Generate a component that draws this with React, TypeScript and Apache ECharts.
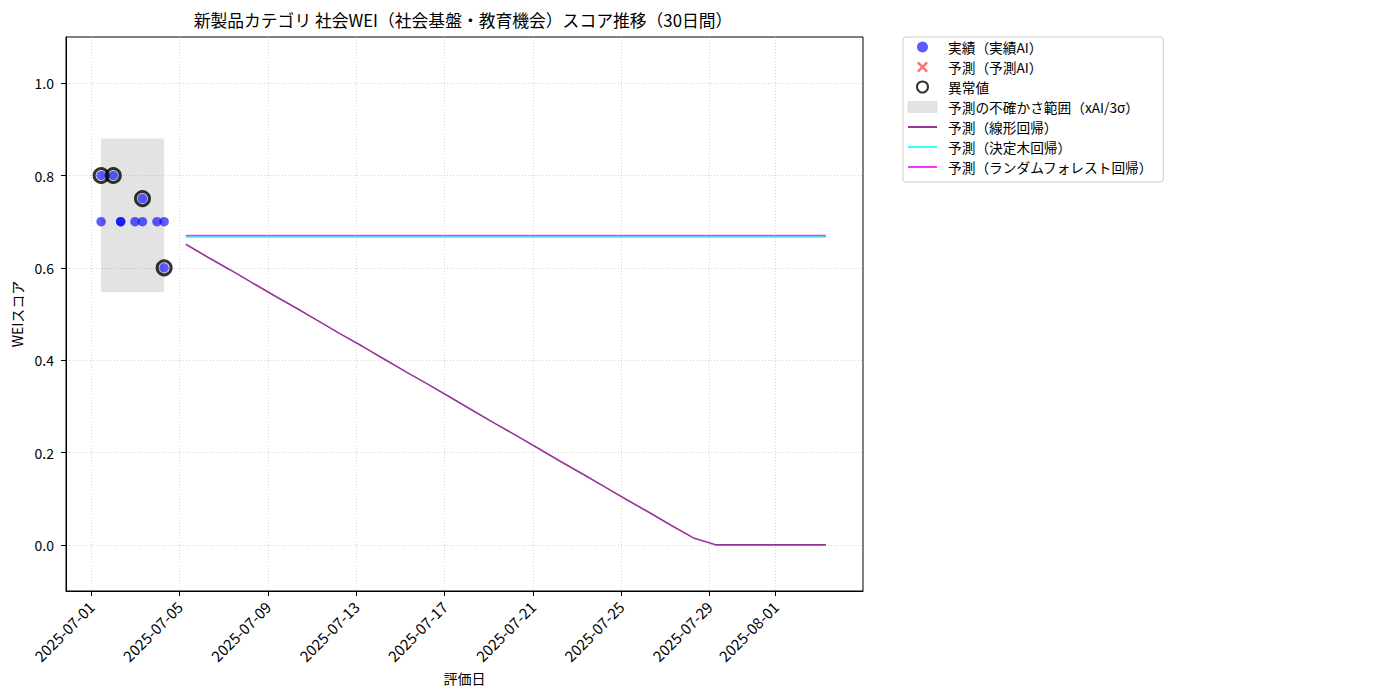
import React, { useEffect, useRef } from "react";
import * as echarts from "echarts";

// ---------- data ----------
const TITLE = "新製品カテゴリ 社会WEI（社会基盤・教育機会）スコア推移（30日間）";
const X_NAME = "評価日";
const Y_NAME = "WEIスコア";

const X_TICKS = [
  "2025-07-01", "2025-07-05", "2025-07-09", "2025-07-13", "2025-07-17",
  "2025-07-21", "2025-07-25", "2025-07-29", "2025-08-01",
];
const Y_TICKS = [0, 0.2, 0.4, 0.6, 0.8, 1.0];

const ACTUAL_DATES = [
  "2025-07-01 10:40", "2025-07-01 10:40", "2025-07-01 23:54",
  "2025-07-02 07:57", "2025-07-02 07:57", "2025-07-02 23:30",
  "2025-07-03 07:39", "2025-07-03 07:39", "2025-07-03 23:25",
  "2025-07-04 07:12", "2025-07-04 07:12",
];
const ACTUAL_VALUES = [0.8, 0.7, 0.8, 0.7, 0.7, 0.7, 0.7, 0.75, 0.7, 0.7, 0.6];

const OUTLIER_DATES = ["2025-07-01 10:40", "2025-07-01 23:54", "2025-07-03 07:39", "2025-07-04 07:12"];
const OUTLIER_VALUES = [0.8, 0.8, 0.75, 0.6];

const BAND_START = "2025-07-01 10:40";
const BAND_END = "2025-07-04 07:12";
const BAND_LOW = 0.547;
const BAND_HIGH = 0.88;

const FORECAST_TIME = "06:43";
const FORECAST_DAYS = [
  "2025-07-05", "2025-07-06", "2025-07-07", "2025-07-08", "2025-07-09",
  "2025-07-10", "2025-07-11", "2025-07-12", "2025-07-13", "2025-07-14",
  "2025-07-15", "2025-07-16", "2025-07-17", "2025-07-18", "2025-07-19",
  "2025-07-20", "2025-07-21", "2025-07-22", "2025-07-23", "2025-07-24",
  "2025-07-25", "2025-07-26", "2025-07-27", "2025-07-28", "2025-07-29",
  "2025-07-30", "2025-07-31", "2025-08-01", "2025-08-02", "2025-08-03",
];
const LINEAR_VALUES = [
  0.651, 0.623, 0.596, 0.568, 0.540, 0.513, 0.485, 0.457, 0.430, 0.402,
  0.374, 0.347, 0.319, 0.291, 0.263, 0.236, 0.208, 0.180, 0.153, 0.125,
  0.097, 0.070, 0.042, 0.015, 0, 0, 0, 0, 0, 0,
];
const TREE_VALUES = [
  0.667, 0.667, 0.667, 0.667, 0.667, 0.667, 0.667, 0.667, 0.667, 0.667,
  0.667, 0.667, 0.667, 0.667, 0.667, 0.667, 0.667, 0.667, 0.667, 0.667,
  0.667, 0.667, 0.667, 0.667, 0.667, 0.667, 0.667, 0.667, 0.667, 0.667,
];
const FOREST_VALUES = [
  0.670, 0.670, 0.670, 0.670, 0.670, 0.670, 0.670, 0.670, 0.670, 0.670,
  0.670, 0.670, 0.670, 0.670, 0.670, 0.670, 0.670, 0.670, 0.670, 0.670,
  0.670, 0.670, 0.670, 0.670, 0.670, 0.670, 0.670, 0.670, 0.670, 0.670,
];
const PRED_AI_DATES: string[] = [];
const PRED_AI_VALUES: number[] = [];

const NAMES = {
  actual: "実績（実績AI）",
  predAI: "予測（予測AI）",
  outlier: "異常値",
  band: "予測の不確かさ範囲（xAI/3σ）",
  linear: "予測（線形回帰）",
  tree: "予測（決定木回帰）",
  forest: "予測（ランダムフォレスト回帰）",
};

// ---------- helpers ----------
const DAY = 86400000;
function ts(s: string): number {
  const [d, t = "00:00"] = s.split(" ");
  const [Y, M, D] = d.split("-").map(Number);
  const [h, m] = t.split(":").map(Number);
  return Date.UTC(Y, M - 1, D, h, m);
}
const pad = (n: number) => String(n).padStart(2, "0");
function fmtDate(v: number): string {
  const d = new Date(v);
  return `${d.getUTCFullYear()}-${pad(d.getUTCMonth() + 1)}-${pad(d.getUTCDate())}`;
}
const zip = (xs: string[], ys: number[]) => xs.map((x, i) => [ts(x), ys[i]]);

const FONT = "'Noto Sans CJK JP', 'Noto Sans', sans-serif";
const X_CROSS =
  "path://M0,1.6L1.6,0L5,3.4L8.4,0L10,1.6L6.6,5L10,8.4L8.4,10L5,6.6L1.6,10L0,8.4L3.4,5Z";

export default function App() {
  const ref = useRef<HTMLDivElement>(null);
  useEffect(() => {
    if (!ref.current) return;
    const chart = echarts.init(ref.current, undefined, { renderer: "svg" });
    const forecastDates = FORECAST_DAYS.map((d) => `${d} ${FORECAST_TIME}`);
    const x0 = ts("2025-07-01");
    const hideSymbol = { itemStyle: { opacity: 0 } };
    const option: any = {
      animation: false,
      backgroundColor: "#ffffff",
      textStyle: { fontFamily: FONT },
      graphic: [
        {
          type: "text",
          x: 463,
          y: 20,
          style: {
            text: TITLE,
            fontFamily: FONT,
            fontSize: 16.8,
            fill: "#000",
            textAlign: "center",
            textVerticalAlign: "middle",
          },
        },
      ],
      grid: {
        left: 66,
        right: 537,
        top: 37,
        bottom: 109,
        show: true,
        borderColor: "#000",
        borderWidth: 1,
        backgroundColor: "transparent",
        outerBoundsMode: "none",
        containLabel: false,
      },
      legend: {
        orient: "vertical",
        left: 903,
        top: 37,
        itemWidth: 29,
        itemHeight: 11,
        itemGap: 0,
        padding: [0, 10, 5, 4],
        backgroundColor: "#fff",
        borderColor: "#cccccc",
        borderWidth: 1,
        borderRadius: 3,
        textStyle: { fontFamily: FONT, fontSize: 13.7, color: "#000", lineHeight: 20, padding: [0, 0, 0, 6] },
        data: [
          { name: NAMES.actual },
          { name: NAMES.predAI },
          { name: NAMES.outlier },
          { name: NAMES.band, icon: "rect", itemStyle: { color: "#e3e3e3", borderColor: "#d0d0d0", borderWidth: 0.5 } },
          { name: NAMES.linear, ...hideSymbol },
          { name: NAMES.tree, ...hideSymbol },
          { name: NAMES.forest, ...hideSymbol },
        ],
      },
      xAxis: {
        type: "value",
        min: x0 - 1.146 * DAY,
        max: x0 + 34.96 * DAY,
        name: X_NAME,
        nameLocation: "middle",
        nameGap: 78,
        nameTextStyle: { fontFamily: FONT, fontSize: 14, color: "#000" },
        axisLine: { show: true, onZero: false, lineStyle: { color: "#000", width: 1 } },
        axisTick: {
          show: true,
          length: 5,
          lineStyle: { color: "#000" },
          customValues: X_TICKS.map((d) => ts(d)),
        },
        axisLabel: {
          rotate: 45,
          margin: 13,
          fontFamily: FONT,
          fontSize: 15,
          color: "#000",
          customValues: X_TICKS.map((d) => ts(d)),
          formatter: (v: number) => fmtDate(v),
        },
        splitLine: { show: true, lineStyle: { color: "#c8c8c8", type: [1, 2], width: 0.8 } },
      },
      yAxis: {
        type: "value",
        min: -0.1,
        max: 1.1,
        name: Y_NAME,
        nameLocation: "middle",
        nameGap: 41,
        nameTextStyle: { fontFamily: FONT, fontSize: 14, color: "#000" },
        axisLine: { show: true, onZero: false, lineStyle: { color: "#000", width: 1 } },
        axisTick: { show: true, length: 5, lineStyle: { color: "#000" }, customValues: Y_TICKS },
        axisLabel: {
          margin: 12,
          fontFamily: FONT,
          fontSize: 14,
          color: "#000",
          customValues: Y_TICKS,
          formatter: (v: number) => v.toFixed(1),
        },
        splitLine: { show: true, lineStyle: { color: "#c8c8c8", type: [1, 2], width: 0.8 } },
      },
      series: [
        {
          type: "custom",
          name: NAMES.band,
          z: 1,
          itemStyle: { color: "#e3e3e3" },
          encode: { x: [0, 1], y: [2, 3] },
          data: [[ts(BAND_START), ts(BAND_END), BAND_LOW, BAND_HIGH]],
          renderItem: (params: any, api: any) => {
            const p0 = api.coord([api.value(0), api.value(3)]);
            const p1 = api.coord([api.value(1), api.value(2)]);
            return {
              type: "rect",
              shape: { x: p0[0], y: p0[1], width: p1[0] - p0[0], height: p1[1] - p0[1] },
              style: { fill: "rgba(128,128,128,0.22)" },
            };
          },
        },
        {
          type: "scatter",
          name: NAMES.actual,
          z: 3,
          symbol: "circle",
          symbolSize: 9.5,
          itemStyle: { color: "rgba(0,0,255,0.8)" },
          data: zip(ACTUAL_DATES, ACTUAL_VALUES),
        },
        {
          type: "scatter",
          name: NAMES.predAI,
          z: 3,
          symbol: X_CROSS,
          symbolSize: 12,
          itemStyle: { color: "rgba(255,0,0,0.7)" },
          data: zip(PRED_AI_DATES, PRED_AI_VALUES),
        },
        {
          type: "scatter",
          name: NAMES.outlier,
          z: 4,
          symbol: "circle",
          symbolSize: 14,
          itemStyle: { color: "rgba(0,0,0,0)", borderColor: "#000", borderWidth: 3 },
          data: zip(OUTLIER_DATES, OUTLIER_VALUES),
        },
        {
          type: "line",
          name: NAMES.linear,
          z: 2,
          symbol: "none",
          lineStyle: { color: "rgba(128,0,128,0.8)", width: 1.6 },
          itemStyle: { color: "rgba(128,0,128,0.8)" },
          data: zip(forecastDates, LINEAR_VALUES),
        },
        {
          type: "line",
          name: NAMES.tree,
          z: 2,
          symbol: "none",
          lineStyle: { color: "rgba(0,255,255,0.8)", width: 1.6 },
          itemStyle: { color: "rgba(0,255,255,0.8)" },
          data: zip(forecastDates, TREE_VALUES),
        },
        {
          type: "line",
          name: NAMES.forest,
          z: 2,
          symbol: "none",
          lineStyle: { color: "rgba(255,0,255,0.8)", width: 1.6 },
          itemStyle: { color: "rgba(255,0,255,0.8)" },
          data: zip(forecastDates, FOREST_VALUES),
        },
      ],
    };
    chart.setOption(option);
    return () => chart.dispose();
  }, []);
  return (
    <div
      ref={ref}
      style={{ position: "fixed", left: 0, top: 0, width: 1400, height: 700, background: "#fff" }}
    />
  );
}
